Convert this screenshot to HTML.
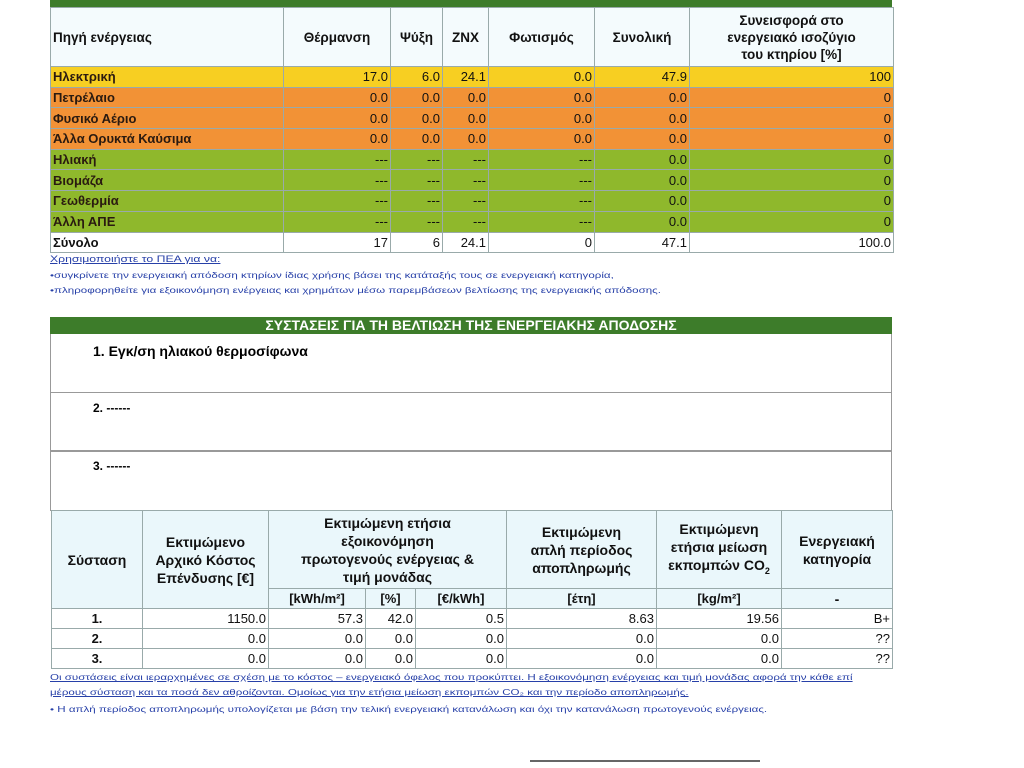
<!DOCTYPE html>
<html><head><meta charset="utf-8"><style>
body{margin:0;width:1024px;height:768px;background:#fff;overflow:hidden;position:relative;font-family:"Liberation Sans","DejaVu Sans",sans-serif;}
table{border-collapse:collapse;table-layout:fixed;position:absolute;}
td{padding:0 2px;font-size:13px;color:#111;border:1px solid #9aa;overflow:hidden;white-space:nowrap;}
.t1 td{height:19.7px;}
.r{text-align:right}.c{text-align:center}
.y td{background:#f7cf22}
.o td{background:#f29236}
.g td{background:#8fb82c}
.o td:first-child,.y td:first-child,.g td:first-child{font-weight:bold;color:#2a1a10}
.hd td{background:#f4fbfd;font-weight:bold;font-size:13.5px;}
.bar{position:absolute;left:50px;width:842px;background:#3d7c2a;color:#fff;text-align:center;font-size:13px;}
.note{position:absolute;left:50px;font-size:8.5px;color:#2740a8;white-space:nowrap;transform-origin:0 0;transform:scaleX(1.36);}
.t2 td{height:19px;font-size:13px}
.t2 .h td{background:#eaf7fb;font-weight:bold;font-size:14px;text-align:center;white-space:nowrap;line-height:18px}
.box{position:absolute;left:50px;width:840px;border:1px solid #999;border-top:none;}
.box div{position:absolute;font-weight:bold;font-size:14px;}
</style></head><body>
<div class="bar" style="top:0;height:7px;"></div>
<table class="t1" style="left:50px;top:7px;width:843px;">
<colgroup><col style="width:233px"><col style="width:107px"><col style="width:52px"><col style="width:46px"><col style="width:106px"><col style="width:95px"><col style="width:204px"></colgroup>
<tr class="hd"><td style="height:58px">Πηγή ενέργειας</td><td class="c">Θέρμανση</td><td class="c">Ψύξη</td><td class="c">ΖΝΧ</td><td class="c">Φωτισμός</td><td class="c">Συνολική</td><td class="c" style="line-height:17px">Συνεισφορά στο<br>ενεργειακό ισοζύγιο<br>του κτηρίου [%]</td></tr>
<tr class="y"><td>Ηλεκτρική</td><td class="r">17.0</td><td class="r">6.0</td><td class="r">24.1</td><td class="r">0.0</td><td class="r">47.9</td><td class="r">100</td></tr>
<tr class="o"><td>Πετρέλαιο</td><td class="r">0.0</td><td class="r">0.0</td><td class="r">0.0</td><td class="r">0.0</td><td class="r">0.0</td><td class="r">0</td></tr>
<tr class="o"><td>Φυσικό Αέριο</td><td class="r">0.0</td><td class="r">0.0</td><td class="r">0.0</td><td class="r">0.0</td><td class="r">0.0</td><td class="r">0</td></tr>
<tr class="o"><td>Άλλα Ορυκτά Καύσιμα</td><td class="r">0.0</td><td class="r">0.0</td><td class="r">0.0</td><td class="r">0.0</td><td class="r">0.0</td><td class="r">0</td></tr>
<tr class="g"><td>Ηλιακή</td><td class="r">---</td><td class="r">---</td><td class="r">---</td><td class="r">---</td><td class="r">0.0</td><td class="r">0</td></tr>
<tr class="g"><td>Βιομάζα</td><td class="r">---</td><td class="r">---</td><td class="r">---</td><td class="r">---</td><td class="r">0.0</td><td class="r">0</td></tr>
<tr class="g"><td>Γεωθερμία</td><td class="r">---</td><td class="r">---</td><td class="r">---</td><td class="r">---</td><td class="r">0.0</td><td class="r">0</td></tr>
<tr class="g"><td>Άλλη ΑΠΕ</td><td class="r">---</td><td class="r">---</td><td class="r">---</td><td class="r">---</td><td class="r">0.0</td><td class="r">0</td></tr>
<tr><td style="font-weight:bold">Σύνολο</td><td class="r">17</td><td class="r">6</td><td class="r">24.1</td><td class="r">0</td><td class="r">47.1</td><td class="r">100.0</td></tr>
</table>
<div class="note" style="top:254px;font-size:9px;text-decoration:underline">Χρησιμοποιήστε το ΠΕΑ για να:</div>
<div class="note" style="top:270px">•συγκρίνετε την ενεργειακή απόδοση κτηρίων ίδιας χρήσης βάσει της κατάταξής τους σε ενεργειακή κατηγορία,</div>
<div class="note" style="top:285px">•πληροφορηθείτε για εξοικονόμηση ενέργειας και χρημάτων μέσω παρεμβάσεων βελτίωσης της ενεργειακής απόδοσης.</div>

<div class="bar" style="top:317px;height:17px;line-height:17px;font-size:14px;font-weight:bold;">ΣΥΣΤΑΣΕΙΣ ΓΙΑ ΤΗ ΒΕΛΤΙΩΣΗ ΤΗΣ ΕΝΕΡΓΕΙΑΚΗΣ ΑΠΟΔΟΣΗΣ</div>
<div class="box" style="top:334px;height:58px;"><div style="left:42px;top:9px">1. Εγκ/ση ηλιακού θερμοσίφωνα</div></div>
<div class="box" style="top:392px;height:58px;border-top:1px solid #999"><div style="left:42px;top:8px;font-size:12px">2. ------</div></div>
<div class="box" style="top:450px;height:59px;border-top:1px solid #999"><div style="left:42px;top:8px;font-size:12px">3. ------</div></div>

<table class="t2" style="left:51px;top:510px;width:841px;">
<colgroup><col style="width:91px"><col style="width:126px"><col style="width:97px"><col style="width:50px"><col style="width:91px"><col style="width:150px"><col style="width:125px"><col style="width:111px"></colgroup>
<tr class="h"><td rowspan="2">Σύσταση</td><td rowspan="2">Εκτιμώμενο<br>Αρχικό Κόστος<br>Επένδυσης [€]</td><td colspan="3" style="height:77px">Εκτιμώμενη ετήσια<br>εξοικονόμηση<br>πρωτογενούς ενέργειας &amp;<br>τιμή μονάδας</td><td>Εκτιμώμενη<br>απλή περίοδος<br>αποπληρωμής</td><td>Εκτιμώμενη<br>ετήσια μείωση<br>εκπομπών CO<sub style="font-size:9px">2</sub></td><td>Ενεργειακή<br>κατηγορία</td></tr>
<tr class="h"><td style="height:19px;font-size:13px">[kWh/m²]</td><td style="font-size:13px">[%]</td><td style="font-size:13px">[€/kWh]</td><td style="font-size:13px">[έτη]</td><td style="font-size:13px">[kg/m²]</td><td>-</td></tr>
<tr><td class="c" style="font-weight:bold">1.</td><td class="r">1150.0</td><td class="r">57.3</td><td class="r">42.0</td><td class="r">0.5</td><td class="r">8.63</td><td class="r">19.56</td><td class="r">B+</td></tr>
<tr><td class="c" style="font-weight:bold">2.</td><td class="r">0.0</td><td class="r">0.0</td><td class="r">0.0</td><td class="r">0.0</td><td class="r">0.0</td><td class="r">0.0</td><td class="r">??</td></tr>
<tr><td class="c" style="font-weight:bold">3.</td><td class="r">0.0</td><td class="r">0.0</td><td class="r">0.0</td><td class="r">0.0</td><td class="r">0.0</td><td class="r">0.0</td><td class="r">??</td></tr>
</table>
<div class="note" style="top:672px;text-decoration:underline">Οι συστάσεις είναι ιεραρχημένες σε σχέση με το κόστος – ενεργειακό όφελος που προκύπτει. Η εξοικονόμηση ενέργειας και τιμή μονάδας αφορά την κάθε επί</div>
<div class="note" style="top:687px;text-decoration:underline">μέρους σύσταση και τα ποσά δεν αθροίζονται. Ομοίως για την ετήσια μείωση εκπομπών CO₂ και την περίοδο αποπληρωμής.</div>
<div class="note" style="top:704px">• Η απλή περίοδος αποπληρωμής υπολογίζεται με βάση την τελική ενεργειακή κατανάλωση και όχι την κατανάλωση πρωτογενούς ενέργειας.</div>
<div style="position:absolute;left:530px;top:760px;width:230px;height:2px;background:#666"></div>
</body></html>
